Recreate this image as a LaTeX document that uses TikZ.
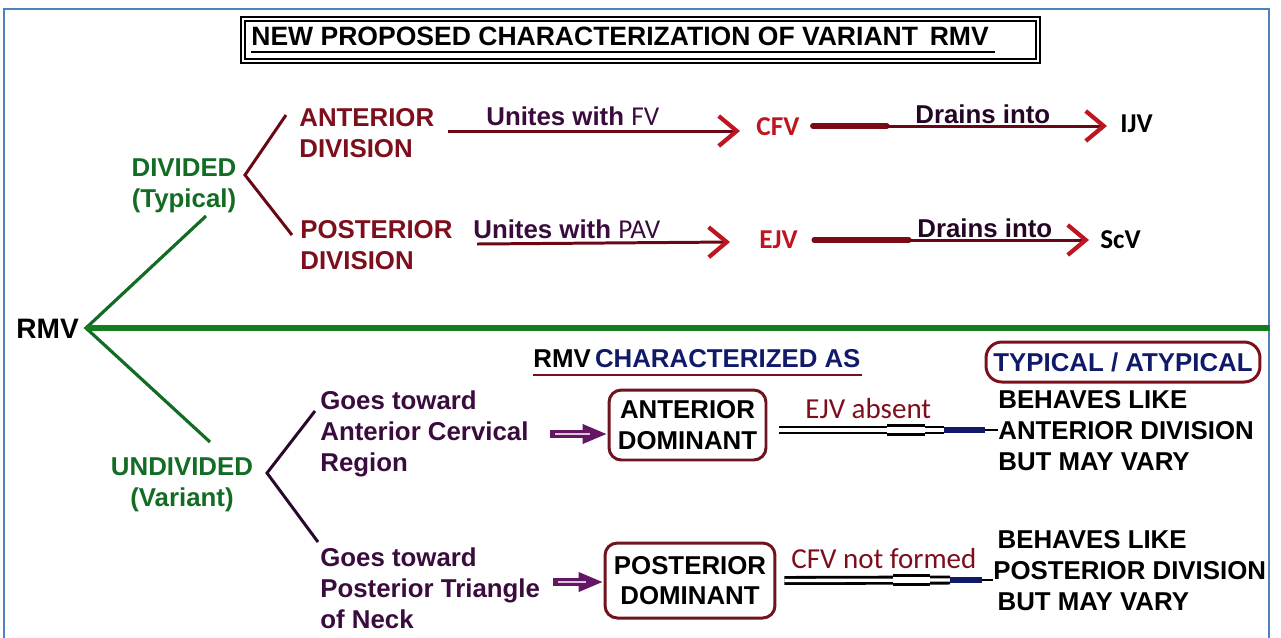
\documentclass[tikz,border=0pt]{standalone}
\usepackage{fontspec}
\setmainfont{Liberation Sans}
\newfontfamily\calib{Carlito}
\usetikzlibrary{arrows.meta,calc}

\definecolor{divRed}{RGB}{125,14,28}
\definecolor{tipRed}{RGB}{190,22,32}
\definecolor{lineRed}{RGB}{105,8,20}
\definecolor{grnDark}{RGB}{18,108,36}
\definecolor{grnLine}{RGB}{22,125,30}
\definecolor{purpText}{RGB}{58,12,62}
\definecolor{purpArr}{RGB}{100,22,100}
\definecolor{navyText}{RGB}{16,26,105}
\definecolor{frameBlue}{RGB}{79,129,189}
\definecolor{boxRed}{RGB}{110,20,30}

\newcommand{\mainsize}{\fontsize{14.7}{17.4}\selectfont}
\newcommand{\calsize}{\fontsize{15.5}{18}\selectfont}

\begin{document}
\begin{tikzpicture}
        [x=0.02cm, y=-0.02cm,
        txt/.style={inner sep=0pt, font=\bfseries\mainsize, align=left, anchor=base west},
        divText/.style={txt, text=divRed},
        grnText/.style={txt, text=grnDark, align=center, anchor=base},
        purpTxt/.style={txt, text=purpText},
        blackTxt/.style={txt, text=black},
        calTxt/.style={inner sep=0pt, font=\calib\bfseries\calsize, anchor=base west},
        domBox/.style={draw=boxRed, line width=1.7pt, rounded corners=7pt, inner sep=0pt,
            font=\bfseries\mainsize, align=center},
        bracket/.style={line width=1.7pt, line join=miter},
        uniteLine/.style={draw=lineRed, line width=1.7pt,
            -{Straight Barb[length=3.6mm, width=6mm, line width=2.4pt, color=tipRed]}},
        purpArrow/.style={draw=purpArr, line width=4.4pt,
            -{Triangle[length=5mm, width=3.6mm]}},
        purpShine/.style={draw=purpArr!25, line width=0.8pt},
        dblShaft/.style={draw=black, line width=1.6pt, double=white, double distance=1.9pt}]

        % frame and bounding box
        \useasboundingbox (0,0) rectangle (1281,637);
        \draw[frameBlue, line width=1.4pt] (4,640) -- (4,9) -- (1269,9) -- (1269,640);

        % title
        \draw[double, line width=0.9pt, double distance=1.3pt] (243,19) rectangle (1038,61);
        \node[blackTxt, font=\bfseries\fontsize{15.1}{18}\selectfont] (title) at (251,45)
            {NEW PROPOSED CHARACTERIZATION OF VARIANT\, RMV};
        \draw[line width=1.6pt] (251,52) -- (995,52);

        % root
        \node[blackTxt, font=\bfseries\fontsize{16}{18}\selectfont] (rmv) at (16,338) {RMV};
        \coordinate (root) at (86,328);

        % divided branch
        \node[grnText] (divided) at (184,207) {DIVIDED\\(Typical)};
        \node[divText] (antDiv) at (299,157) {ANTERIOR\\DIVISION};
        \node[divText] (postDiv) at (300,269) {POSTERIOR\\DIVISION};
        \coordinate (divTop) at (286,115);
        \coordinate (divVert) at (245,175);
        \coordinate (divBot) at (292,235);
        \draw[bracket, draw=lineRed] (divTop) -- (divVert) -- (divBot);

        \node[purpTxt] (uniteFV) at (486,125) {Unites with {\mdseries\calib\calsize FV}};
        \node[purpTxt] (unitePAV) at (473,238) {Unites with {\mdseries\calib\calsize PAV}};
        \node[calTxt, text=tipRed] (cfv) at (756,135) {CFV};
        \node[calTxt, text=tipRed] (ejv) at (759,248) {EJV};
        \node[txt, text=purpText!60!black] (drainA) at (915,123) {Drains into};
        \node[txt, text=purpText!60!black] (drainB) at (917,237) {Drains into};
        \node[calTxt, text=black] (ijv) at (1120,132) {IJV};
        \node[calTxt, text=black] (scv) at (1100,248) {ScV};

        \draw[uniteLine] (448,131) -- ($(cfv.base west)+(-16,-4)$);
        \draw[uniteLine] (477,244) -- ($(ejv.base west)+(-29,-6)$);
        \draw[lineRed!80!tipRed, line width=3pt, line cap=round] ($(cfv.base east)+(13,-9)$) -- (887,126);
        \draw[uniteLine] (887,126) -- ($(ijv.base west)+(-13,-6)$);
        \draw[lineRed!80!tipRed, line width=3pt, line cap=round] ($(ejv.base east)+(16,-8)$) -- (909,240);
        \draw[uniteLine] (909,240) -- ($(scv.base west)+(-11,-8)$);

        % green connectors
        \draw[grnDark, line width=1.8pt] (206,216) -- (root) -- (210,442);
        \draw[grnLine, line width=2.9pt] (root) -- (1270,328);

        % undivided branch
        \node[grnText] (undivided) at (182,506) {UNDIVIDED\\(Variant)};
        \node[purpTxt] (goAnt) at (320,471) {Goes toward\\Anterior Cervical\\Region};
        \node[purpTxt] (goPost) at (320,628) {Goes toward\\Posterior Triangle\\of Neck};
        \coordinate (undTop) at (315,411);
        \coordinate (undVert) at (267,473);
        \coordinate (undBot) at (318,542);
        \draw[bracket, draw=purpText!70!black] (undTop) -- (undVert) -- (undBot);

        \node[blackTxt] (charAs) at (533,367) {RMV\,{\color{navyText}CHARACTERIZED AS}};
        \draw[divRed, line width=1.6pt] (533,375) -- (862,375);
        \node[draw=divRed, line width=1.7pt, rounded corners=9pt, minimum width=5.48cm,
            minimum height=0.8cm, font=\bfseries\mainsize, text=navyText] (typical) at (1123,362)
            {TYPICAL / ATYPICAL};

        \node[domBox, minimum width=3.14cm, minimum height=1.4cm] (antDom) at (687.5,425) {ANTERIOR\\DOMINANT};
        \node[domBox, minimum width=3.4cm, minimum height=1.5cm] (postDom) at (690,580.5) {POSTERIOR\\DOMINANT};

        \draw[purpArrow] (550,434) -- (antDom.west |- 0,434);
        \draw[purpShine] (555,434) -- (590,434);
        \draw[purpArrow] (553,582) -- (postDom.west |- 0,582);
        \draw[purpShine] (558,582) -- (586,582);

        \node[calTxt, text=divRed, font=\calib\fontsize{16.5}{19}\selectfont] (ejvAbs) at (805,418) {EJV absent};
        \node[calTxt, text=divRed, font=\calib\fontsize{16.5}{19}\selectfont] (cfvNot) at (791,568) {CFV not formed};

        \node[blackTxt] (behAnt) at (998,470) {BEHAVES LIKE\\ANTERIOR DIVISION\\BUT MAY VARY};
        \node[blackTxt] (behPost) at (993,610) {\,BEHAVES LIKE\\POSTERIOR DIVISION\\\,BUT MAY VARY};

        % double arrows
        \draw[dblShaft] ($(antDom.east)+(12,5)$) -- (944,430);
        \draw[dblShaft, double distance=3.8pt] (887,430) -- (925,430);
        \draw[navyText, line width=3.2pt] (944,430) -- (985,430);
        \draw[black, line width=1.4pt] (985,430) -- (behAnt.west |- 0,430);
        \draw[dblShaft] ($(postDom.east)+(8,0)$) -- (950,580);
        \draw[dblShaft, double distance=3.8pt] (893,580) -- (930,580);
        \draw[navyText, line width=3.2pt] (950,580) -- (982,580);
        \draw[black, line width=1.4pt] (982,580) -- (behPost.west |- 0,580);
    \end{tikzpicture}
\end{document}
